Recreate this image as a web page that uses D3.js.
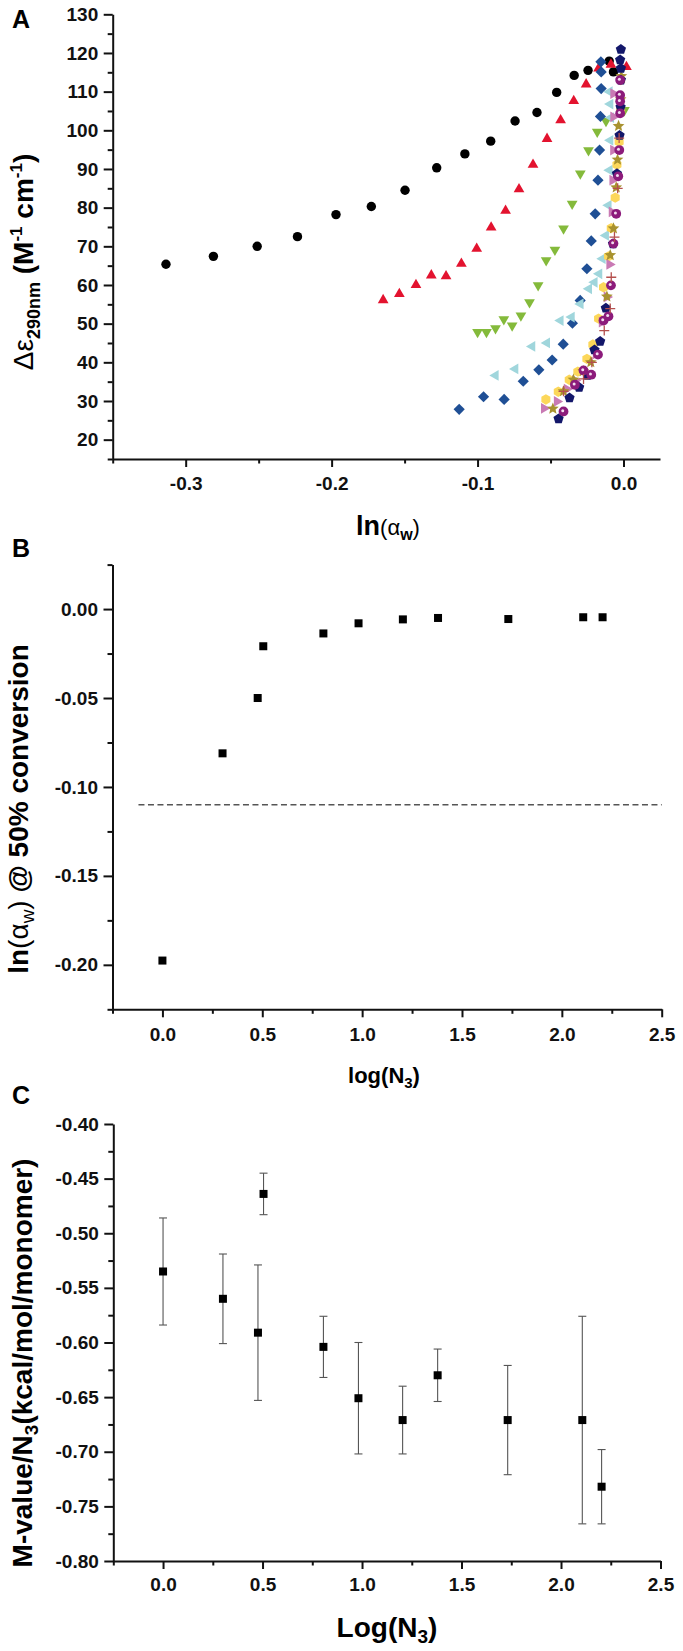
<!DOCTYPE html>
<html>
<head>
<meta charset="utf-8">
<script src="https://cdn.jsdelivr.net/npm/d3@7"></script>
<style>
  body { margin: 0; background: #fff; }
  svg { display: block; font-family: "Liberation Sans", Arial, sans-serif; }
  .tick text { font-family: "Liberation Sans", Arial, sans-serif; font-size: 19px; font-weight: bold; fill: #111; }
  .domain, .tick line { stroke: #111; stroke-width: 2; }
</style>
</head>
<body>
<script>
// ---------- Panel A : [ln(aw), delta-eps] per sample ----------
var blackPts = [[-0.3135,65.35],[-0.281,67.4],[-0.251,70.0],[-0.2234,72.5],[-0.197,78.2],[-0.1728,80.3],
  [-0.1497,84.5],[-0.128,90.3],[-0.1087,93.9],[-0.091,97.2],[-0.0743,102.4],[-0.0593,104.6],[-0.0458,109.8],
  [-0.0338,114.2],[-0.0243,115.5],[-0.0098,117.9],[-0.0069,115.1]];
var redPts = [[-0.1647,56.1],[-0.1536,57.7],[-0.1422,60.0],[-0.1317,62.5],[-0.1216,62.3],[-0.1111,65.5],
  [-0.1006,69.4],[-0.0907,74.9],[-0.0808,79.2],[-0.0716,84.8],[-0.062,91.1],[-0.0524,97.8],[-0.0431,102.6],
  [-0.0341,107.6],[-0.0256,111.9],[-0.0171,116.0],[-0.0086,117.0],[0.002,116.4]];
var greenPts = [[-0.1,47.8],[-0.0939,47.8],[-0.0877,48.8],[-0.082,51.1],[-0.0763,49.5],[-0.0703,52.1],
  [-0.0644,55.5],[-0.0585,59.9],[-0.053,66.4],[-0.047,69.1],[-0.0411,74.6],[-0.0352,81.0],[-0.0296,88.8],
  [-0.024,94.8],[-0.018,99.6],[-0.012,102.4],[0.0006,105.2]];
var bluePts = [[-0.1126,27.85],[-0.0959,31.1],[-0.0818,30.4],[-0.0687,35.1],[-0.058,38.05],[-0.0489,40.6],
  [-0.0413,44.7],[-0.035,50.1],[-0.0297,56.0],[-0.0251,64.2],[-0.0221,71.4],[-0.0194,78.4],[-0.0175,87.1],
  [-0.0164,94.9],[-0.0158,103.6],[-0.0153,110.8],[-0.0153,115.1],[-0.0155,117.7]];
var cyanPts = [[-0.0877,36.6],[-0.0742,38.3],[-0.0626,44.1],[-0.0525,45.0],[-0.0432,50.8],[-0.0356,51.7],
  [-0.0295,55.1],[-0.0237,59.0],[-0.0199,60.7],[-0.0167,62.9],[-0.0144,66.8],[-0.0121,72.8],[-0.0103,80.6],
  [-0.0096,89.7],[-0.0091,97.4],[-0.0086,103.3],[-0.0091,106.8],[-0.0096,110]];
var yellowPts = [[-0.0532,30.4],[-0.0447,32.4],[-0.0372,35.5],[-0.0313,37.6],[-0.0251,40.9],[-0.021,44.6],
  [-0.0171,51.3],[-0.0137,59.4],[-0.0103,67.4],[-0.0084,74.7],[-0.0057,82.6],[-0.0045,91.1],[-0.003,97],
  [-0.002,105],[-0.002,113]];
var pinkPts = [[-0.0544,28.1],[-0.0456,29.9],[-0.0388,33.1],[-0.0331,35.3],[-0.0189,42.2],[-0.0148,50.4],
  [-0.0114,56.9],[-0.0096,65.3],[-0.008,78.9],[-0.0075,87.1],[-0.007,94.9],[-0.0069,103.5],[-0.0069,109.5]];
var olivePts = [[-0.0484,28.0],[-0.0411,32.5],[-0.0343,35.5],[-0.0276,37.7],[-0.0224,40.0],[-0.0114,57.0],
  [-0.0091,67.7],[-0.0069,74.6],[-0.005,85.2],[-0.0041,92.4],[-0.0034,101.1],[-0.002,108],[-0.0015,114]];
var navyPts = [[-0.0445,25.4],[-0.037,30.8],[-0.0304,33.5],[-0.0247,36.6],[-0.0199,43.2],[-0.016,45.4],
  [-0.0121,54.0],[-0.0072,70.6],[-0.0045,88.8],[-0.0027,98.7],[-0.002,106],[-0.0018,113],[-0.0018,116],
  [-0.0023,118.2],[-0.0018,120.9]];
var purplePts = [[-0.0411,27.3],[-0.0333,34.2],[-0.0274,37.9],[-0.0221,36.8],[-0.0175,42.0],[-0.0137,50.8],
  [-0.0103,51.9],[-0.0086,59.9],[-0.0069,70.7],[-0.005,78.4],[-0.0036,88.1],[-0.0029,94.9],[-0.0023,104.4],
  [-0.0023,107.5],[-0.0023,109.1],[-0.0023,113]];
var plusPts = [[-0.0411,32.5],[-0.0274,35.7],[-0.0217,40.0],[-0.0132,48.2],[-0.0091,53.9],[-0.0084,62.0],
  [-0.0062,72.4],[-0.004,85],[-0.003,98]];

var aTicksX = [-0.3, -0.2, -0.1, 0.0];
var aTicksY = [20, 30, 40, 50, 60, 70, 80, 90, 100, 110, 120, 130];

// ---------- Panel B / C : per oligomer ----------
var logN = [0, 0.301, 0.477, 0.505, 0.806, 0.982, 1.204, 1.380, 1.732, 2.107, 2.204];
var lnAw50 = [-0.1976, -0.0811, -0.050, -0.0209, -0.0137, -0.0080, -0.0058, -0.0050, -0.0056, -0.0046, -0.0046];
var lnAwLimit = -0.11;
var mValue = [-0.535, -0.560, -0.591, -0.464, -0.604, -0.651, -0.671, -0.630, -0.671, -0.671, -0.732];
var mErr = [0.049, 0.041, 0.062, 0.019, 0.028, 0.051, 0.031, 0.024, 0.050, 0.095, 0.034];

var bTicksY = [0.00, -0.05, -0.10, -0.15, -0.20];
var cTicksY = [-0.40, -0.45, -0.50, -0.55, -0.60, -0.65, -0.70, -0.75, -0.80];
var nTicksX = [0.0, 0.5, 1.0, 1.5, 2.0, 2.5];

// custom marker shapes, size = radius in px
function polySym(n, rot){
  return { draw: function(ctx, r){
    for (var i = 0; i < n; i++){
      var a = rot + i * 2 * Math.PI / n;
      var px = r * Math.sin(a), py = -r * Math.cos(a);
      if (i == 0) ctx.moveTo(px, py); else ctx.lineTo(px, py);
    }
    ctx.closePath();
  }};
}
var circleSym = { draw: function(ctx, r){ ctx.moveTo(r, 0); ctx.arc(0, 0, r, 0, 2 * Math.PI); } };
var starSym = { draw: function(ctx, r){
  for (var i = 0; i < 10; i++){
    var a = i * Math.PI / 5, rr = (i % 2 == 0) ? r : r * 0.45;
    if (i == 0) ctx.moveTo(rr * Math.sin(a), -rr * Math.cos(a));
    else ctx.lineTo(rr * Math.sin(a), -rr * Math.cos(a));
  }
  ctx.closePath();
}};
var plusSym = { draw: function(ctx, r){ ctx.moveTo(-r, 0); ctx.lineTo(r, 0); ctx.moveTo(0, -r); ctx.lineTo(0, r); } };

var seriesA = [
  {pts: blackPts,  sym: circleSym,              r: 4.7, fill: "#000000"},
  {pts: redPts,    sym: polySym(3, 0),          r: 6.2, fill: "#e3132f"},
  {pts: greenPts,  sym: polySym(3, Math.PI),    r: 6.2, fill: "#84ba3b"},
  {pts: bluePts,   sym: polySym(4, 0),          r: 5.6, fill: "#1f4f95"},
  {pts: cyanPts,   sym: polySym(3, -Math.PI/2), r: 6.2, fill: "#a0d6dc"},
  {pts: yellowPts, sym: polySym(6, 0),          r: 5.2, fill: "#fcd75a"},
  {pts: pinkPts,   sym: polySym(3, Math.PI/2),  r: 6.2, fill: "#c97ab4"},
  {pts: olivePts,  sym: starSym,                r: 6.2, fill: "#a8922f"},
  {pts: navyPts,   sym: polySym(5, 0),          r: 5.4, fill: "#13176a"},
  {pts: purplePts, sym: circleSym,              r: 4.9, fill: "#8c1b7b", dot: true},
  {pts: plusPts,   sym: plusSym,                r: 5.0, fill: "none", stroke: "#b5504e"}
];

var fmt1 = function(d){ return d3.format(".1f")(d).replace("\u2212", "-"); };
var fmt2 = function(d){ return d3.format(".2f")(d).replace("\u2212", "-"); };

var svg = d3.select("body").append("svg")
  .attr("width", 683)
  .attr("height", 1651);

function draw_axes(x, y, xt, yt, xminor, yminor, fx, fy, padX){
  var g = svg.append("g");
  // minor ticks first
  g.append("g").attr("transform", "translate(0," + y.range()[0] + ")")
    .call(d3.axisBottom(x).tickValues(xminor).tickSize(4.5).tickFormat(""))
    .select(".domain").remove();
  g.append("g").attr("transform", "translate(" + x.range()[0] + ",0)")
    .call(d3.axisLeft(y).tickValues(yminor).tickSize(5).tickFormat(""))
    .select(".domain").remove();
  g.append("g").attr("transform", "translate(0," + y.range()[0] + ")")
    .call(d3.axisBottom(x).tickValues(xt).tickSize(8).tickSizeOuter(0).tickPadding(padX).tickFormat(fx));
  g.append("g").attr("transform", "translate(" + x.range()[0] + ",0)")
    .call(d3.axisLeft(y).tickValues(yt).tickSize(9).tickSizeOuter(0).tickPadding(5.5).tickFormat(fy));
  g.selectAll("g").attr("font-family", null);
}

function panel_letter(txt, yb){
  svg.append("text").attr("x", 12).attr("y", yb)
    .style("font-size", "25px").style("font-weight", "bold").text(txt);
}

// ================= Panel A =================
var xA = d3.scaleLinear().domain([-0.35, 0.025]).range([112.7, 660]);
var yA = d3.scaleLinear().domain([15, 130]).range([459, 14.3]);

draw_axes(xA, yA, aTicksX, aTicksY,
  [-0.35, -0.25, -0.15, -0.05], [15, 25, 35, 45, 55, 65, 75, 85, 95, 105, 115, 125],
  fmt1, function(d){ return d; }, 10);

seriesA.forEach(function(s){
  var gen = d3.symbol().type(s.sym).size(s.r);
  var g = svg.append("g");
  g.selectAll("path")
    .data(s.pts)
    .enter()
    .append("path")
    .attr("transform", function(d){ return "translate(" + xA(d[0]) + "," + yA(d[1]) + ")"; })
    .attr("d", gen)
    .style("fill", s.fill)
    .style("stroke", s.stroke || "none")
    .style("stroke-width", 1.3);
  if (s.dot){
    g.selectAll("circle")
      .data(s.pts)
      .enter()
      .append("circle")
      .attr("cx", function(d){ return xA(d[0]) - 0.8; })
      .attr("cy", function(d){ return yA(d[1]) - 0.8; })
      .attr("r", 1.5)
      .style("fill", "#f2dcef");
  }
});

panel_letter("A", 28);

// y title A
var tA = svg.append("text")
  .attr("transform", "translate(33,262) rotate(-90)")
  .attr("text-anchor", "middle")
  .style("font-size", "28px").style("font-weight", "bold");
tA.append("tspan").style("font-weight", "normal").text("\u0394\u03b5");
tA.append("tspan").attr("dy", 7).style("font-size", "18px").text("290nm");
tA.append("tspan").attr("dy", -7).text(" (M");
tA.append("tspan").attr("dy", -11).style("font-size", "17px").text("-1");
tA.append("tspan").attr("dy", 11).text(" cm");
tA.append("tspan").attr("dy", -11).style("font-size", "17px").text("-1");
tA.append("tspan").attr("dy", 11).text(")");

// x title A
var xtA = svg.append("text")
  .attr("x", 388).attr("y", 535)
  .attr("text-anchor", "middle")
  .style("font-size", "27px").style("font-weight", "bold");
xtA.append("tspan").text("ln");
xtA.append("tspan").style("font-weight", "normal").style("font-size", "22px").text("(\u03b1");
xtA.append("tspan").attr("dy", 5).style("font-size", "16px").text("w");
xtA.append("tspan").attr("dy", -5).style("font-weight", "normal").style("font-size", "22px").text(")");

// ================= Panel B =================
var xB = d3.scaleLinear().domain([-0.25, 2.5]).range([112.5, 661.7]);
var yB = d3.scaleLinear().domain([-0.225, 0.025]).range([1009.3, 564.6]);

draw_axes(xB, yB, nTicksX, bTicksY,
  [-0.25, 0.25, 0.75, 1.25, 1.75, 2.25], [-0.225, -0.175, -0.125, -0.075, -0.025, 0.025],
  fmt1, fmt2, 10.5);

// threshold line
svg.append("line")
  .attr("x1", xB(-0.12)).attr("x2", xB(2.5))
  .attr("y1", yB(lnAwLimit)).attr("y2", yB(lnAwLimit))
  .style("stroke", "#555").style("stroke-width", 1.3).style("stroke-dasharray", "6,3.5");

svg.append("g").selectAll("rect")
  .data(logN)
  .enter()
  .append("rect")
  .attr("x", function(d){ return xB(d) - 4; })
  .attr("y", function(d, i){ return yB(lnAw50[i]) - 4; })
  .attr("width", 8).attr("height", 8)
  .style("fill", "#000");

panel_letter("B", 557);

var tB = svg.append("text")
  .attr("transform", "translate(28,809) rotate(-90)")
  .attr("text-anchor", "middle")
  .style("font-size", "28px").style("font-weight", "bold");
tB.append("tspan").text("ln");
tB.append("tspan").style("font-weight", "normal").text("(\u03b1");
tB.append("tspan").attr("dy", 6).style("font-size", "19px").style("font-weight", "normal").text("w");
tB.append("tspan").attr("dy", -6).style("font-weight", "normal").text(")");
tB.append("tspan").text(" @ 50% conversion");

var xtB = svg.append("text")
  .attr("x", 384).attr("y", 1083)
  .attr("text-anchor", "middle")
  .style("font-size", "22px").style("font-weight", "bold");
xtB.append("tspan").text("log(N");
xtB.append("tspan").attr("dy", 5).style("font-size", "15px").text("3");
xtB.append("tspan").attr("dy", -5).text(")");

// ================= Panel C =================
var xC = d3.scaleLinear().domain([-0.25, 2.5]).range([113.3, 660.5]);
var yC = d3.scaleLinear().domain([-0.80, -0.40]).range([1561, 1124]);

draw_axes(xC, yC, nTicksX, cTicksY,
  [-0.25, 0.25, 0.75, 1.25, 1.75, 2.25], [-0.775, -0.725, -0.675, -0.625, -0.575, -0.525, -0.475, -0.425],
  fmt1, fmt2, 9);

// error bars
var eb = svg.append("g").selectAll("g")
  .data(logN)
  .enter()
  .append("g")
  .style("stroke", "#555").style("stroke-width", 1.1);
eb.append("line")
  .attr("x1", function(d){ return xC(d); }).attr("x2", function(d){ return xC(d); })
  .attr("y1", function(d, i){ return yC(mValue[i] + mErr[i]); })
  .attr("y2", function(d, i){ return yC(mValue[i] - mErr[i]); });
eb.append("line")
  .attr("x1", function(d){ return xC(d) - 4; }).attr("x2", function(d){ return xC(d) + 4; })
  .attr("y1", function(d, i){ return yC(mValue[i] + mErr[i]); })
  .attr("y2", function(d, i){ return yC(mValue[i] + mErr[i]); });
eb.append("line")
  .attr("x1", function(d){ return xC(d) - 4; }).attr("x2", function(d){ return xC(d) + 4; })
  .attr("y1", function(d, i){ return yC(mValue[i] - mErr[i]); })
  .attr("y2", function(d, i){ return yC(mValue[i] - mErr[i]); });

svg.append("g").selectAll("rect")
  .data(logN)
  .enter()
  .append("rect")
  .attr("x", function(d){ return xC(d) - 4; })
  .attr("y", function(d, i){ return yC(mValue[i]) - 4; })
  .attr("width", 8).attr("height", 8)
  .style("fill", "#000");

panel_letter("C", 1104);

var tC = svg.append("text")
  .attr("transform", "translate(32,1363) rotate(-90)")
  .attr("text-anchor", "middle")
  .style("font-size", "28px").style("font-weight", "bold");
tC.append("tspan").text("M-value/N");
tC.append("tspan").attr("dy", 6).style("font-size", "19px").text("3");
tC.append("tspan").attr("dy", -6).text("(kcal/mol/monomer)");

var xtC = svg.append("text")
  .attr("x", 387).attr("y", 1637)
  .attr("text-anchor", "middle")
  .style("font-size", "28px").style("font-weight", "bold");
xtC.append("tspan").text("Log(N");
xtC.append("tspan").attr("dy", 6).style("font-size", "19px").text("3");
xtC.append("tspan").attr("dy", -6).text(")");
</script>
</body>
</html>
